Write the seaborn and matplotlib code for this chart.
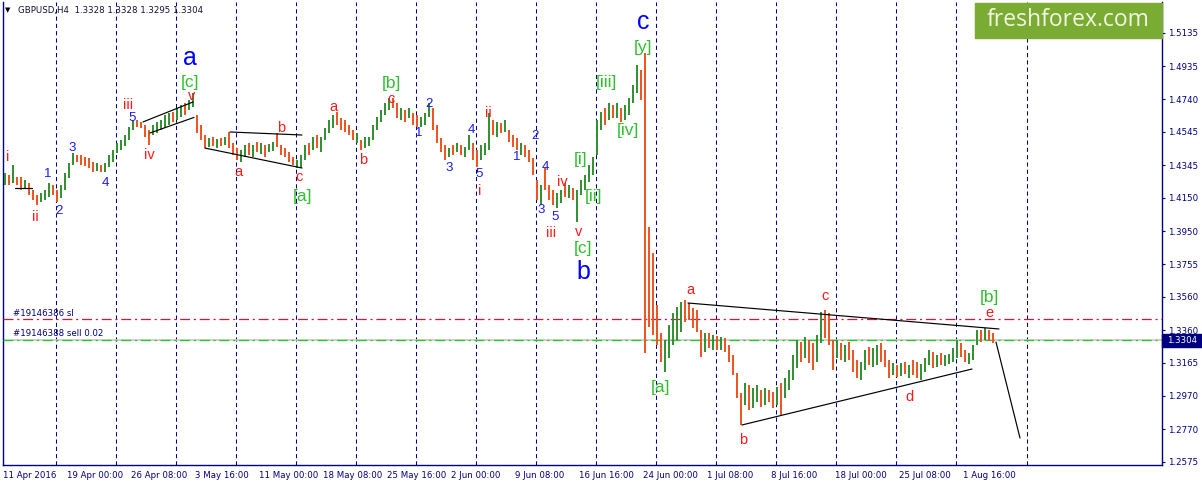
import numpy as np
import pandas as pd
import matplotlib
matplotlib.use("Agg")
import matplotlib.pyplot as plt
import matplotlib.patches as mpatches
import seaborn as sns

# GBPUSD H4 bars (high / low), u = up bar, d = down bar
bar_high = [
    1.4299, 1.4287, 1.4347, 1.4275, 1.4275, 1.4257, 1.4240, 1.4198, 1.4168, 1.4180,
    1.4198, 1.4240, 1.4228, 1.4198, 1.4228, 1.4299, 1.4359, 1.4419, 1.4407, 1.4407,
    1.4395, 1.4389, 1.4365, 1.4359, 1.4347, 1.4359, 1.4407, 1.4437, 1.4478, 1.4496,
    1.4526, 1.4574, 1.4616, 1.4616, 1.4604, 1.4586, 1.4556, 1.4586, 1.4604, 1.4616,
    1.4645, 1.4657, 1.4663, 1.4687, 1.4705, 1.4717, 1.4735, 1.4777, 1.4645, 1.4586,
    1.4526, 1.4508, 1.4514, 1.4502, 1.4508, 1.4514, 1.4544, 1.4478, 1.4448, 1.4437,
    1.4466, 1.4478, 1.4466, 1.4484, 1.4478, 1.4466, 1.4472, 1.4484, 1.4538, 1.4466,
    1.4448, 1.4425, 1.4395, 1.4377, 1.4407, 1.4466, 1.4478, 1.4514, 1.4526, 1.4514,
    1.4568, 1.4616, 1.4645, 1.4663, 1.4628, 1.4616, 1.4586, 1.4556, 1.4538, 1.4496,
    1.4514, 1.4514, 1.4586, 1.4634, 1.4675, 1.4717, 1.4747, 1.4747, 1.4717, 1.4687,
    1.4675, 1.4687, 1.4657, 1.4645, 1.4634, 1.4657, 1.4717, 1.4687, 1.4586, 1.4508,
    1.4466, 1.4448, 1.4466, 1.4478, 1.4466, 1.4454, 1.4526, 1.4478, 1.4437, 1.4466,
    1.4478, 1.4657, 1.4616, 1.4604, 1.4598, 1.4616, 1.4556, 1.4526, 1.4508, 1.4478,
    1.4466, 1.4437, 1.4389, 1.4257, 1.4228, 1.4329, 1.4228, 1.4198, 1.4180, 1.4198,
    1.4240, 1.4228, 1.4210, 1.4198, 1.4257, 1.4287, 1.4347, 1.4395, 1.4616, 1.4663,
    1.4687, 1.4717, 1.4705, 1.4717, 1.4687, 1.4705, 1.4747, 1.4825, 1.4944, 1.4914,
    1.5016, 1.3977, 1.3822, 1.3511, 1.3344, 1.3302, 1.3392, 1.3463, 1.3499, 1.3529,
    1.3541, 1.3523, 1.3493, 1.3481, 1.3362, 1.3344, 1.3344, 1.3332, 1.3326, 1.3320,
    1.3314, 1.3272, 1.3213, 1.3105, 1.2986, 1.3046, 1.3034, 1.3016, 1.3034, 1.3004,
    1.3016, 1.3004, 1.2992, 1.3022, 1.3046, 1.3075, 1.3123, 1.3213, 1.3302, 1.3290,
    1.3320, 1.3302, 1.3284, 1.3332, 1.3469, 1.3481, 1.3463, 1.3302, 1.3302, 1.3284,
    1.3272, 1.3290, 1.3243, 1.3183, 1.3171, 1.3243, 1.3260, 1.3254, 1.3272, 1.3284,
    1.3243, 1.3183, 1.3165, 1.3153, 1.3165, 1.3171, 1.3153, 1.3183, 1.3171, 1.3159,
    1.3195, 1.3243, 1.3231, 1.3213, 1.3225, 1.3213, 1.3219, 1.3254, 1.3302, 1.3284,
    1.3243, 1.3225, 1.3272, 1.3362, 1.3362, 1.3374, 1.3362, 1.3344,
]
bar_low = [
    1.4228, 1.4228, 1.4240, 1.4228, 1.4198, 1.4210, 1.4168, 1.4138, 1.4108, 1.4126,
    1.4138, 1.4156, 1.4168, 1.4126, 1.4150, 1.4198, 1.4269, 1.4347, 1.4365, 1.4347,
    1.4341, 1.4329, 1.4305, 1.4311, 1.4305, 1.4305, 1.4335, 1.4365, 1.4419, 1.4437,
    1.4460, 1.4496, 1.4556, 1.4574, 1.4568, 1.4514, 1.4466, 1.4526, 1.4538, 1.4556,
    1.4568, 1.4586, 1.4604, 1.4616, 1.4634, 1.4645, 1.4675, 1.4693, 1.4538, 1.4496,
    1.4448, 1.4454, 1.4460, 1.4448, 1.4460, 1.4466, 1.4448, 1.4407, 1.4377, 1.4365,
    1.4395, 1.4407, 1.4395, 1.4425, 1.4413, 1.4395, 1.4425, 1.4431, 1.4454, 1.4407,
    1.4395, 1.4365, 1.4347, 1.4329, 1.4329, 1.4377, 1.4407, 1.4437, 1.4448, 1.4425,
    1.4496, 1.4538, 1.4568, 1.4586, 1.4556, 1.4544, 1.4526, 1.4496, 1.4478, 1.4437,
    1.4448, 1.4460, 1.4496, 1.4556, 1.4604, 1.4645, 1.4675, 1.4687, 1.4628, 1.4616,
    1.4604, 1.4628, 1.4586, 1.4574, 1.4574, 1.4586, 1.4634, 1.4556, 1.4478, 1.4425,
    1.4377, 1.4395, 1.4407, 1.4425, 1.4407, 1.4395, 1.4437, 1.4377, 1.4335, 1.4377,
    1.4407, 1.4437, 1.4526, 1.4514, 1.4538, 1.4544, 1.4484, 1.4454, 1.4437, 1.4407,
    1.4395, 1.4365, 1.4287, 1.4138, 1.4108, 1.4198, 1.4138, 1.4108, 1.4090, 1.4120,
    1.4156, 1.4150, 1.4138, 1.4007, 1.4168, 1.4198, 1.4246, 1.4287, 1.4407, 1.4556,
    1.4586, 1.4616, 1.4628, 1.4628, 1.4604, 1.4616, 1.4645, 1.4717, 1.4777, 1.4735,
    1.3225, 1.3380, 1.3332, 1.3272, 1.3171, 1.3111, 1.3195, 1.3272, 1.3302, 1.3350,
    1.3410, 1.3422, 1.3374, 1.3350, 1.3201, 1.3231, 1.3254, 1.3243, 1.3243, 1.3243,
    1.3231, 1.3171, 1.3093, 1.2956, 1.2795, 1.2914, 1.2884, 1.2896, 1.2932, 1.2902,
    1.2914, 1.2932, 1.2896, 1.2914, 1.2854, 1.2956, 1.3004, 1.3063, 1.3135, 1.3171,
    1.3195, 1.3165, 1.3123, 1.3171, 1.3284, 1.3314, 1.3272, 1.3123, 1.3195, 1.3183,
    1.3171, 1.3183, 1.3111, 1.3075, 1.3063, 1.3123, 1.3153, 1.3141, 1.3153, 1.3171,
    1.3141, 1.3075, 1.3093, 1.3081, 1.3087, 1.3099, 1.3075, 1.3093, 1.3075, 1.3063,
    1.3111, 1.3153, 1.3135, 1.3141, 1.3153, 1.3147, 1.3159, 1.3171, 1.3195, 1.3201,
    1.3171, 1.3159, 1.3183, 1.3272, 1.3290, 1.3302, 1.3296, 1.3284,
]
bar_dir = ("ududduddduu" "udduuuuddd" "dduduuuuuu" "uudddduuuu" "uduuduuddd"
           "udududdduu" "dududuuddd" "dduuududuu" "uudddddudu" "uuuuuuddud"
           "udduuudddd" "ududuudduu" "udududddud" "ddduddduud" "uduuuuuuud"
           "ududuuuudd" "dddduuuuud" "ddddududud" "dddduduudu" "dduduuuudu"
           "dduudddudu" "ddduuduudd" "dudududduu" "ududuuuudd" "uuududd")

time_labels = ["11 Apr 2016", "19 Apr 00:00", "26 Apr 08:00", "3 May 16:00",
               "11 May 00:00", "18 May 08:00", "25 May 16:00", "2 Jun 00:00",
               "9 Jun 08:00", "16 Jun 16:00", "24 Jun 00:00", "1 Jul 08:00",
               "8 Jul 16:00", "18 Jul 00:00", "25 Jul 08:00", "1 Aug 16:00"]
price_ticks = [1.5135, 1.4935, 1.4740, 1.4545, 1.4345, 1.4150, 1.3950, 1.3755,
               1.3560, 1.3360, 1.3165, 1.2970, 1.2770, 1.2575]

bid_price = 1.3304
sl_price = 1.3428
header = "GBPUSD,H4  1.3328 1.3328 1.3295 1.3304"

# analyst trend lines: (bar, price) pairs
trend_lines = [
    [(34.5, 1.4604), (47.0, 1.4723)],
    [(36.25, 1.4538), (47.25, 1.4631)],
    [(56.25, 1.4544), (74.25, 1.4526)],
    [(50.0, 1.4448), (74.25, 1.4329)],
    [(170.75, 1.3523), (248.5, 1.3368)],
    [(184.25, 1.2795), (241.75, 1.3129)],
    [(247.75, 1.3290), (253.75, 1.2717)],
    [(2.5, 1.4210), (6.75, 1.4210)],
]

# wave counts: (bar, price, text)
red_waves = [(0.75, 1.4395, "i"), (7.5, 1.4037, "ii"), (30.75, 1.4705, "iii"),
             (36.0, 1.4407, "iv"), (46.75, 1.4759, "v"), (58.25, 1.4305, "a"),
             (69.0, 1.4568, "b"), (73.5, 1.4275, "c"), (82.0, 1.4693, "a"),
             (89.5, 1.4377, "b"), (96.5, 1.4741, "c"), (120.75, 1.4657, "ii"),
             (118.75, 1.4192, "i"), (136.5, 1.3941, "iii"), (139.25, 1.4246, "iv"),
             (143.5, 1.3947, "v"), (171.25, 1.3601, "a"), (184.5, 1.2705, "b"),
             (205.0, 1.3565, "c"), (226.0, 1.2962, "d"), (246.0, 1.3463, "e")]
blue_waves = [(10.75, 1.4293, "1"), (13.5, 1.4072, "2"), (16.75, 1.4448, "3"),
              (25.0, 1.4240, "4"), (31.75, 1.4628, "5"), (103.5, 1.4538, "1"),
              (106.0, 1.4711, "2"), (111.0, 1.4329, "3"), (116.5, 1.4556, "4"),
              (118.5, 1.4293, "5"), (128.0, 1.4395, "1"), (132.5, 1.4520, "2"),
              (134.0, 1.4078, "3"), (135.0, 1.4335, "4"), (137.5, 1.4037, "5")]
green_waves = [(46.25, 1.4842, "[c]"), (74.25, 1.4156, "[a]"), (96.5, 1.4831, "[b]"),
               (144.0, 1.4377, "[i]"), (147.25, 1.4156, "[ii]"), (144.5, 1.3851, "[c]"),
               (150.25, 1.4837, "[iii]"), (155.75, 1.4550, "[iv]"), (159.5, 1.5046, "[y]"),
               (163.75, 1.3016, "[a]"), (246.0, 1.3553, "[b]")]
big_waves = [(46.25, 1.4986, "a"), (144.5, 1.3708, "b"), (159.5, 1.5201, "c")]

NAVY = "#00007f"
UP = "#2f8f2f"
DOWN = "#f0521e"

sns.set_theme(style="white")
plt.rcParams["font.family"] = ["DejaVu Sans"]

df = pd.DataFrame({"high": bar_high, "low": bar_low, "dir": list(bar_dir)})
df["bar"] = np.arange(len(df))

fig = plt.figure(figsize=(12.02, 4.86), dpi=100)
ax = fig.add_axes([3 / 1202, 21 / 486, 1159 / 1202, 463 / 486])
ax.set_facecolor("white")

# weekly separators
week_lines = [12.7 + 15 * k for k in range(16)] + [255.5]
for wx in week_lines:
    ax.axvline(wx, color=NAVY, lw=0.75, dashes=(4, 3), zorder=1)

# order lines
ax.axhline(bid_price, color="#c8c8c8", lw=1.2, zorder=2)
ax.axhline(bid_price, color="#22cc22", lw=0.9, dashes=(8, 3, 1.7, 3), zorder=3)
ax.axhline(sl_price, color="#dc143c", lw=0.9, dashes=(8, 3, 1.7, 3), zorder=3)

colors = [UP if d == "u" else DOWN for d in df["dir"]]
ax.vlines(df["bar"], df["low"], df["high"], colors=colors, lw=1.4, zorder=4)

for line in trend_lines:
    xs, ys = zip(*line)
    ax.plot(xs, ys, color="black", lw=0.85, zorder=5)

wave_font = ["Liberation Sans", "DejaVu Sans"]
for x, y, t in red_waves:
    ax.text(x, y, t, color="#ff1a1a", fontsize=10.5, ha="center", va="center", family=wave_font, zorder=6)
for x, y, t in blue_waves:
    ax.text(x, y, t, color="#1a1aff", fontsize=9.5, ha="center", va="center", family=wave_font, zorder=6)
for x, y, t in green_waves:
    ax.text(x, y, t, color="#2fbf2f", fontsize=12.5, ha="center", va="center", family=wave_font, zorder=6)
for x, y, t in big_waves:
    ax.text(x, y, t, color="#0000ff", fontsize=18, ha="center", va="center", family=wave_font, zorder=6)

ax.set_xlim(-0.5, 289.25)
ax.set_ylim(1.2556, 1.5320)

# axes
for side in ["left", "right", "bottom"]:
    ax.spines[side].set_color(NAVY)
    ax.spines[side].set_linewidth(1.0)
ax.spines["top"].set_visible(False)

ax.yaxis.tick_right()
ax.set_yticks(price_ticks)
ax.set_yticklabels([f"{v:.4f}" for v in price_ticks])
ax.tick_params(axis="y", direction="out", length=2.5, width=0.8, colors=NAVY,
               labelsize=6.2, pad=2)

time_pos = [-0.5 + 16 * k for k in range(len(time_labels))]
ax.set_xticks(time_pos)
ax.set_xticklabels(time_labels, ha="left")
ax.set_xticks(week_lines, minor=True)
ax.tick_params(axis="x", which="major", direction="out", length=3, width=0.8,
               colors=NAVY, labelsize=6.2, pad=1.5)
ax.tick_params(axis="x", which="minor", direction="in", length=3, width=0.8, colors=NAVY)
ax.grid(False)

# header and order captions
fig.text(5 / 1202, 1 - 10 / 486, "\u25bc", fontsize=5, color="black", va="center", ha="left")
fig.text(18 / 1202, 1 - 10 / 486, header, fontsize=6.2, color="#101030", va="center", ha="left")
ax.text(10 / 1159 * 289.75 - 0.5, sl_price + 0.0035, "#19146386 sl", fontsize=6.2,
        color=NAVY, va="center", ha="left", zorder=6)
ax.text(10 / 1159 * 289.75 - 0.5, bid_price + 0.0035, "#19146388 sell 0.02", fontsize=6.2,
        color=NAVY, va="center", ha="left", zorder=6)

# current price tag
fig.patches.append(mpatches.Rectangle((1162 / 1202, 1 - 347 / 486), 40 / 1202, 13 / 486,
                                      transform=fig.transFigure, color="#000080", zorder=10))
fig.text(1167 / 1202, 1 - 340.5 / 486, f"{bid_price:.4f}", fontsize=6.2, color="white",
         va="center", ha="left", zorder=11)

# logo
fig.patches.append(mpatches.Rectangle((975 / 1202, 1 - 38 / 486), 187 / 1202, 35 / 486,
                                      transform=fig.transFigure, color="#7aac34", zorder=10))
fig.text(1068 / 1202, 1 - 20 / 486, "freshforex.com", fontsize=16.5, color="#f2f6e4",
         va="center", ha="center", family=["Open Sans", "DejaVu Sans"], zorder=11)

fig.savefig("out.png", dpi=100)
